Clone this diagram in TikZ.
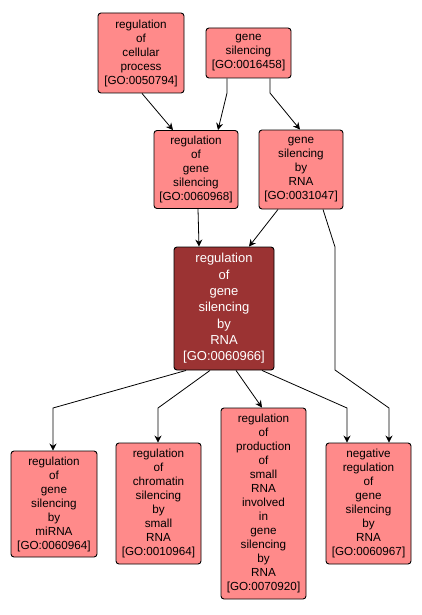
\documentclass[tikz,border=0pt]{standalone}
\usepackage{fontspec}
\setmainfont{Liberation Sans}
\usetikzlibrary{arrows.meta}
\definecolor{lightgo}{HTML}{FF8A8A}
\definecolor{darkgo}{HTML}{9B3333}
\tikzset{
  goterm/.style={draw=black, line width=0.9pt, rounded corners=3pt, fill=lightgo,
    align=center, inner sep=0pt, font=\fontsize{11.7}{14}\selectfont},
  goterm focus/.style={goterm, fill=darkgo, text=white, font=\fontsize{13}{16.3}\selectfont},
  golink/.style={draw=black, line width=0.8pt, -{Stealth[length=7pt,width=7pt]}},
}
\begin{document}
\begin{tikzpicture}[x=1pt,y=-1pt]
\useasboundingbox (0,0) rectangle (421,615);
% top
\node[goterm, minimum width=86pt, minimum height=80pt] (A) at (141,53) {regulation\\of\\cellular\\process\\{[GO:0050794]}};
\node[goterm, minimum width=85pt, minimum height=50pt] (B) at (248.5,53) {gene\\silencing\\{[GO:0016458]}};
\node[goterm, minimum width=84pt, minimum height=78pt] (C) at (196,169.5) {regulation\\of\\gene\\silencing\\{[GO:0060968]}};
\node[goterm, minimum width=84pt, minimum height=79pt] (D) at (301,169.5) {gene\\silencing\\by\\RNA\\{[GO:0031047]}};
\node[goterm focus, minimum width=100pt, minimum height=123pt] (E) at (224,308.5) {regulation\\of\\gene\\silencing\\by\\RNA\\{[GO:0060966]}};
\node[goterm, minimum width=86pt, minimum height=106pt] (F) at (54,504) {regulation\\of\\gene\\silencing\\by\\miRNA\\{[GO:0060964]}};
\node[goterm, minimum width=85pt, minimum height=121pt] (G) at (158.5,503.5) {regulation\\of\\chromatin\\silencing\\by\\small\\RNA\\{[GO:0010964]}};
\node[goterm, minimum width=85pt, minimum height=191pt] (H) at (263.5,503.5) {regulation\\of\\production\\of\\small\\RNA\\involved\\in\\gene\\silencing\\by\\RNA\\{[GO:0070920]}};
\node[goterm, minimum width=85pt, minimum height=121pt] (I) at (368.5,503.5) {negative\\regulation\\of\\gene\\silencing\\by\\RNA\\{[GO:0060967]}};
% bend points
\coordinate (bBC) at (227,93);
\coordinate (bBD) at (270,93);
\coordinate (bDI1) at (335,247);
\coordinate (bDI2) at (335,370);
\coordinate (bDI3) at (389,408);
\coordinate (bEF) at (53,408);
\coordinate (bEG) at (158,408);
\coordinate (bEI) at (347,408);
% edges
\draw[golink] ([xshift=1pt]A.south) -- ([xshift=-23pt]C.north);
\draw[golink] ([xshift=-21.5pt]B.south) -- (bBC) -- ([xshift=22pt]C.north);
\draw[golink] ([xshift=21.5pt]B.south) -- (bBD) -- ([xshift=-1pt]D.north);
\draw[golink] ([xshift=2pt]C.south) -- ([xshift=-25pt]E.north);
\draw[golink] ([xshift=-23pt]D.south) -- ([xshift=25pt]E.north);
\draw[golink] ([xshift=22pt]D.south) -- (bDI1) -- (bDI2) -- (bDI3) -- ([xshift=20.5pt]I.north);
\draw[golink] ([xshift=-38pt]E.south) -- (bEF) -- ([xshift=-1pt]F.north);
\draw[golink] ([xshift=-14pt]E.south) -- (bEG) -- ([xshift=-0.5pt]G.north);
\draw[golink] ([xshift=12pt]E.south) -- ([xshift=-1.5pt]H.north);
\draw[golink] ([xshift=38pt]E.south) -- (bEI) -- ([xshift=-21.5pt]I.north);
\end{tikzpicture}
\end{document}
